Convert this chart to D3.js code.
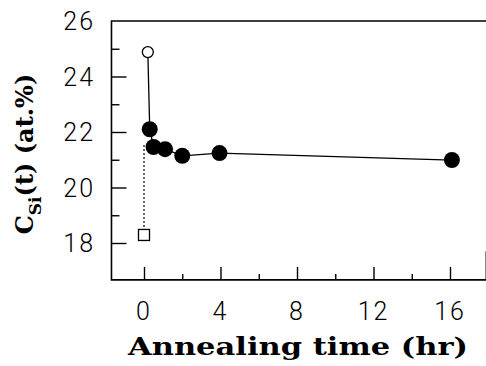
<!DOCTYPE html>
<html>
<head>
<meta charset="utf-8">
<script src="https://cdn.jsdelivr.net/npm/d3@7"></script>
<style>
  body { margin: 0; background: #fff; }
  svg { display: block; }
</style>
</head>
<body>
<div id="chart"></div>
<script>
// annealing data
const annealTime = [0.3, 0.5, 1.1, 2.0, 3.95, 16.1];   // hr
const siConc = [22.1, 21.46, 21.38, 21.14, 21.24, 20.99];   // at.%
const asDeposited = [0.2, 24.88];   // open circle
const initialSquare = [0, 18.29];   // open square
const dottedTop = 21.6;

const xMajor = [0, 4, 8, 12, 16];
const xMinor = [2, 6, 10, 14];
const yMajor = [18, 20, 22, 24, 26];
const yMinor = [19, 21, 23, 25];

const W = 486, H = 366;

let x = d3.scaleLinear().domain([0, 16]).range([144, 450]);
let y = d3.scaleLinear().domain([18, 26]).range([243, 21]);

const xLo = -1.7, xHi = 17.9, yLo = 16.67, yHi = 26;

let svg = d3.select("#chart").append("svg")
  .attr("width", W)
  .attr("height", H);

let frame = svg.append("g")
  .attr("stroke", "#000")
  .attr("stroke-width", 1.6)
  .attr("fill", "none");

// open-ended box like the scan: left, top, bottom and a stub on the right
frame.append("path")
  .attr("d", `M${x(xHi)},${y(yHi)} H${x(xLo)} V${y(yLo)} H${x(xHi)} V${y(17.7)}`);

// ticks pointing inward
let xAxis = d3.axisTop(x).tickValues(xMajor).tickSize(13).tickFormat("");
svg.append("g")
  .attr("transform", "translate(0," + y(yLo) + ")")
  .call(xAxis)
  .call(g => g.select(".domain").remove())
  .call(g => g.selectAll("line").attr("stroke-width", 1.4));

svg.append("g")
  .attr("transform", "translate(0," + y(yLo) + ")")
  .call(d3.axisTop(x).tickValues(xMinor).tickSize(6).tickFormat(""))
  .call(g => g.select(".domain").remove())
  .call(g => g.selectAll("line").attr("stroke-width", 1.4));

svg.append("g")
  .attr("transform", "translate(" + x(xLo) + ",0)")
  .call(d3.axisRight(y).tickValues(yMajor.filter(d => d < 26)).tickSize(15).tickFormat(""))
  .call(g => g.select(".domain").remove())
  .call(g => g.selectAll("line").attr("stroke-width", 1.4));

svg.append("g")
  .attr("transform", "translate(" + x(xLo) + ",0)")
  .call(d3.axisRight(y).tickValues(yMinor).tickSize(8).tickFormat(""))
  .call(g => g.select(".domain").remove())
  .call(g => g.selectAll("line").attr("stroke-width", 1.4));

// tick labels
let labelFont = "Roboto, 'Liberation Sans', sans-serif";
svg.append("g")
  .selectAll("text")
  .data(yMajor)
  .join("text")
  .attr("x", 95)
  .attr("y", d => y(d))
  .attr("dy", "0.36em")
  .attr("text-anchor", "end")
  .attr("font-family", labelFont)
  .attr("font-weight", 300)
  .attr("font-size", 25)
  .attr("letter-spacing", 2)
  .text(d => d);

svg.append("g")
  .selectAll("text")
  .data(xMajor)
  .join("text")
  .attr("x", d => x(d))
  .attr("y", 320)
  .attr("text-anchor", "middle")
  .attr("font-family", labelFont)
  .attr("font-weight", 300)
  .attr("font-size", 25)
  .attr("letter-spacing", 2)
  .text(d => d);

// axis titles
svg.append("text")
  .attr("x", 298)
  .attr("y", 355)
  .attr("text-anchor", "middle")
  .attr("font-family", "'DejaVu Serif', serif")
  .attr("font-weight", "bold")
  .attr("font-size", 25)
  .attr("textLength", 340)
  .attr("lengthAdjust", "spacingAndGlyphs")
  .text("Annealing time (hr)");

let yTitle = svg.append("text")
  .attr("transform", "translate(33,154) rotate(-90)")
  .attr("text-anchor", "middle")
  .attr("font-family", "'DejaVu Serif', serif")
  .attr("font-weight", "bold")
  .attr("font-size", 24);
yTitle.append("tspan").text("C");
yTitle.append("tspan").attr("font-size", 17).attr("dy", 8).text("Si");
yTitle.append("tspan").attr("dy", -8).text("(t) (at.%)");

// dotted link from the initial square
svg.append("line")
  .attr("x1", x(initialSquare[0]))
  .attr("x2", x(initialSquare[0]))
  .attr("y1", y(initialSquare[1]))
  .attr("y2", y(dottedTop))
  .attr("stroke", "#000")
  .attr("stroke-width", 1.2)
  .attr("stroke-dasharray", "2,2");

// solid curve: open circle then filled points
let pts = [asDeposited].concat(annealTime.map((t, i) => [t, siConc[i]]));
let line = d3.line()
  .x(d => x(d[0]))
  .y(d => y(d[1]));

svg.append("path")
  .datum(pts)
  .attr("fill", "none")
  .attr("stroke", "#000")
  .attr("stroke-width", 1.3)
  .attr("d", line);

svg.append("g")
  .selectAll("circle")
  .data(annealTime)
  .join("circle")
  .attr("cx", d => x(d))
  .attr("cy", (d, i) => y(siConc[i]))
  .attr("r", 8)
  .attr("fill", "#000");

svg.append("circle")
  .attr("cx", x(asDeposited[0]))
  .attr("cy", y(asDeposited[1]))
  .attr("r", 5.5)
  .attr("fill", "#fff")
  .attr("stroke", "#000")
  .attr("stroke-width", 1.3);

svg.append("rect")
  .attr("x", x(initialSquare[0]) - 5.5)
  .attr("y", y(initialSquare[1]) - 5.5)
  .attr("width", 11)
  .attr("height", 11)
  .attr("fill", "#fff")
  .attr("stroke", "#000")
  .attr("stroke-width", 1.3);
</script>
</body>
</html>
